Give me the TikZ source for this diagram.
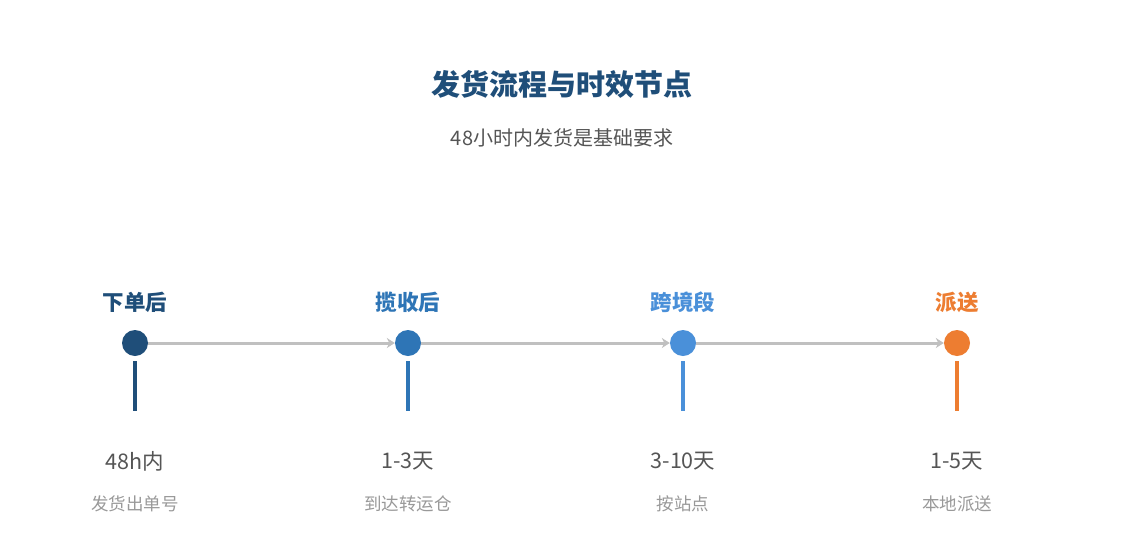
\documentclass[tikz,border=0pt]{standalone}
\usepackage{fontspec}
\setmainfont{Noto Sans CJK SC}
\usetikzlibrary{arrows.meta}
\definecolor{cA}{HTML}{1F4E79}
\definecolor{cB}{HTML}{2E75B6}
\definecolor{cC}{HTML}{4A90D9}
\definecolor{cD}{HTML}{ED7D31}
\definecolor{lineg}{HTML}{C0C0C0}
\definecolor{txtd}{HTML}{555555}
\definecolor{txtl}{HTML}{999999}
\tikzset{
  titletext/.style={font=\fontsize{29}{32}\selectfont\bfseries, text=cA, inner sep=0pt},
  subtext/.style={font=\fontsize{20}{23}\selectfont, text=txtd, inner sep=0pt},
  stagetext/.style={font=\fontsize{21.5}{24}\selectfont\bfseries, inner sep=0pt},
  dot/.style={circle, minimum size=26pt, inner sep=0pt},
  flow/.style={draw=lineg, line width=3pt, -{Stealth[length=8pt,width=10pt]}},
  stem/.style={line width=4pt},
  timetext/.style={font=\fontsize{21.5}{24}\selectfont, text=txtd, inner sep=0pt},
  notetext/.style={font=\fontsize{17.5}{20}\selectfont, text=txtl, inner sep=0pt}
}
\begin{document}
\begin{tikzpicture}[x=1pt,y=-1pt]
\useasboundingbox[fill=white] (0,0) rectangle (1125,555);
\node[titletext] (title) at (562,84) {发货流程与时效节点};
\node[subtext] (subtitle) at (562,138) {48小时内发货是基础要求};
\foreach \i/\x/\c/\s/\t/\n in {1/135/cA/下单后/48h内/发货出单号, 2/408/cB/揽收后/1-3天/到达转运仓, 3/683/cC/跨境段/3-10天/按站点, 4/957/cD/派送/1-5天/本地派送}{
  \node[stagetext, text=\c] (s\i) at (\x,302) {\s};
  \node[dot, fill=\c] (c\i) at (\x,343) {};
  \coordinate (t\i) at (\x,361);
  \coordinate (b\i) at (\x,411);
  \draw[stem, draw=\c] (t\i) -- (b\i);
  \node[timetext] (d\i) at (\x,461) {\t};
  \node[notetext] (n\i) at (\x,504) {\n};
}
\draw[flow] (c1) -- (c2);
\draw[flow] (c2) -- (c3);
\draw[flow] (c3) -- (c4);
\end{tikzpicture}
\end{document}
